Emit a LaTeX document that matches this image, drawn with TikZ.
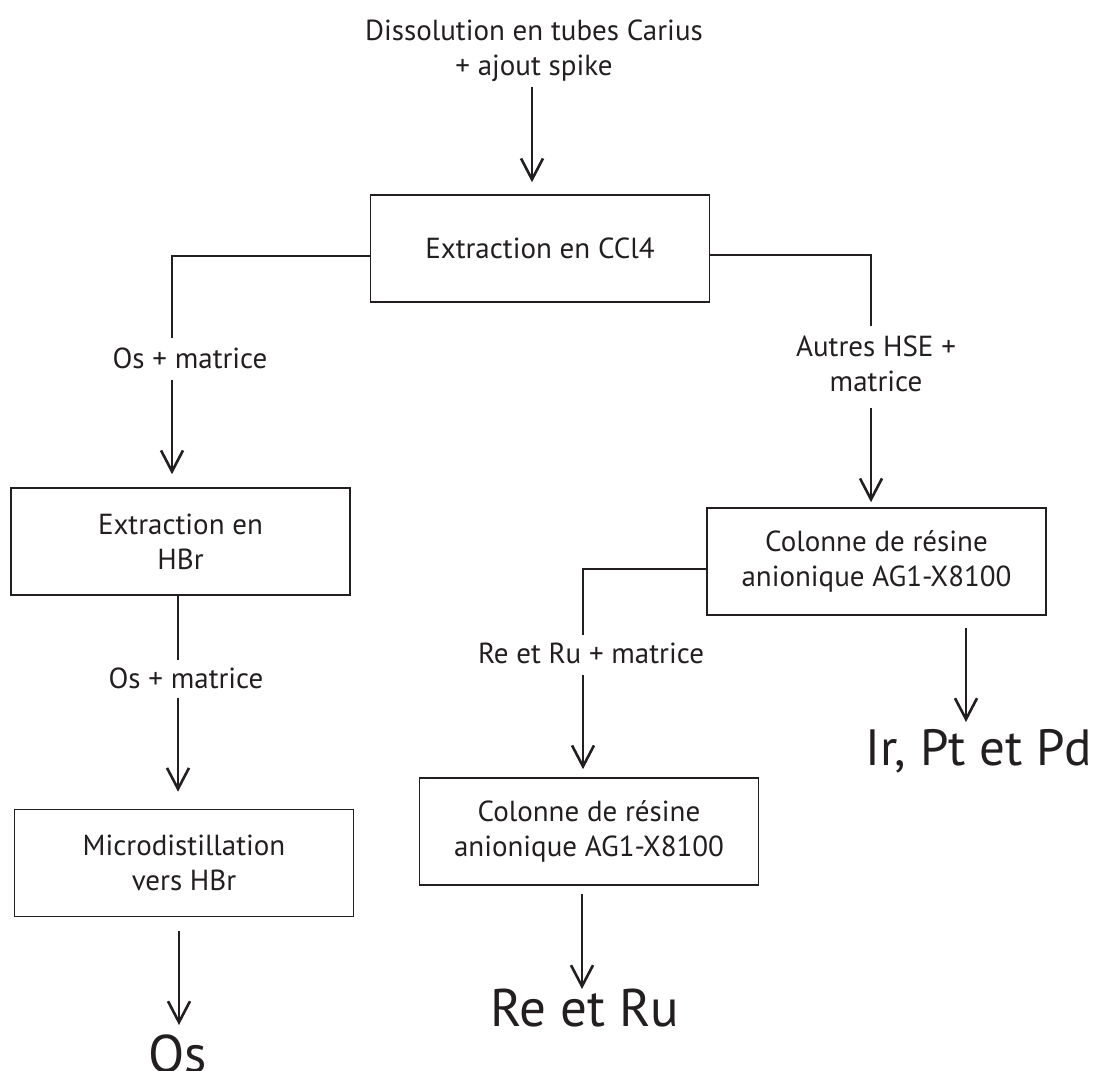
\documentclass[tikz,border=0pt]{standalone}
\usepackage{fontspec}
\setmainfont{PT Sans}
\usetikzlibrary{arrows.meta}
\definecolor{ink}{HTML}{231F20}
\begin{document}
\begin{tikzpicture}[x=1pt,y=-1pt,
  lbl/.style={font=\fontsize{29}{35}\selectfont, text=ink, align=center, inner sep=0pt},
  big/.style={font=\fontsize{53}{60}\selectfont, text=ink, inner sep=0pt, anchor=base},
  stepbox/.style={lbl, draw=ink, line width=1.6pt, minimum width=339pt, minimum height=107pt},
  conn/.style={draw=ink, line width=2.6pt},
  arr/.style={conn, -{Straight Barb[length=21pt,width=22pt]}}
]
\useasboundingbox (0,0) rectangle (1094,1070);

% boxes
\node[stepbox] (cc)    at (540,248.5) {Extraction en CCl4};
\node[stepbox] (hbr)   at (180.5,541.5) {Extraction en\\HBr};
\node[stepbox] (micro) at (184,863) {Microdistillation\\vers HBr};
\node[stepbox] (col1)  at (876.5,561.5) {Colonne de résine\\anionique AG1-X8100};
\node[stepbox] (col2)  at (589,831.5) {Colonne de résine\\anionique AG1-X8100};

% labels
\node[lbl] (top)  at (534,51) {Dissolution en tubes Carius\\+ ajout spike};
\node[lbl] (osm1) at (190,358) {Os + matrice};
\node[lbl] (hse)  at (876,364) {Autres HSE +\\matrice};
\node[lbl] (osm2) at (186,678) {Os + matrice};
\node[lbl] (rerum) at (591,653) {Re et Ru + matrice};

% final products
\node[big] (os)   at (178,1072) {Os};
\node[big] (reru) at (585,1026) {Re et Ru};
\node[big, font=\fontsize{51}{58}\selectfont] (irpt) at (979,765) {Ir, Pt et Pd};

% waypoints
\coordinate (t1) at (532,87);
\coordinate (j1) at (172,338);
\coordinate (j2) at (172,380);
\coordinate (j3) at (871,326);
\coordinate (j4) at (871,408);
\coordinate (j5) at (178,660);
\coordinate (j6) at (178,698);
\coordinate (j7) at (583,635);
\coordinate (j8) at (583,675);
\coordinate (e1) at (179,1025);
\coordinate (e2) at (582,989);
\coordinate (e3) at (966,722);

% connectors
\draw[arr] (t1) -- ([xshift=-8pt,yshift=12pt]cc.north);
\draw[conn] ([yshift=-7.5pt]cc.west) -| (j1);
\draw[arr] (j2) -- ([xshift=-8.5pt,yshift=13pt]hbr.north);
\draw[conn] ([yshift=-6.5pt]cc.east) -| (j3);
\draw[arr] (j4) -- ([xshift=-5.5pt,yshift=5pt]col1.north);
\draw[conn] ([xshift=-2.5pt]hbr.south) -- (j5);
\draw[arr] (j6) -- ([xshift=-6pt,yshift=17pt]micro.north);
\draw[arr] ([xshift=-5pt,yshift=-14pt]micro.south) -- (e1);
\draw[conn] ([yshift=-7.5pt]col1.west) -| (j7);
\draw[arr] (j8) -- ([xshift=-6pt,yshift=8pt]col2.north);
\draw[arr] ([xshift=-7pt,yshift=-8pt]col2.south) -- (e2);
\draw[arr] ([xshift=89.5pt,yshift=-12pt]col1.south) -- (e3);
\end{tikzpicture}
\end{document}
